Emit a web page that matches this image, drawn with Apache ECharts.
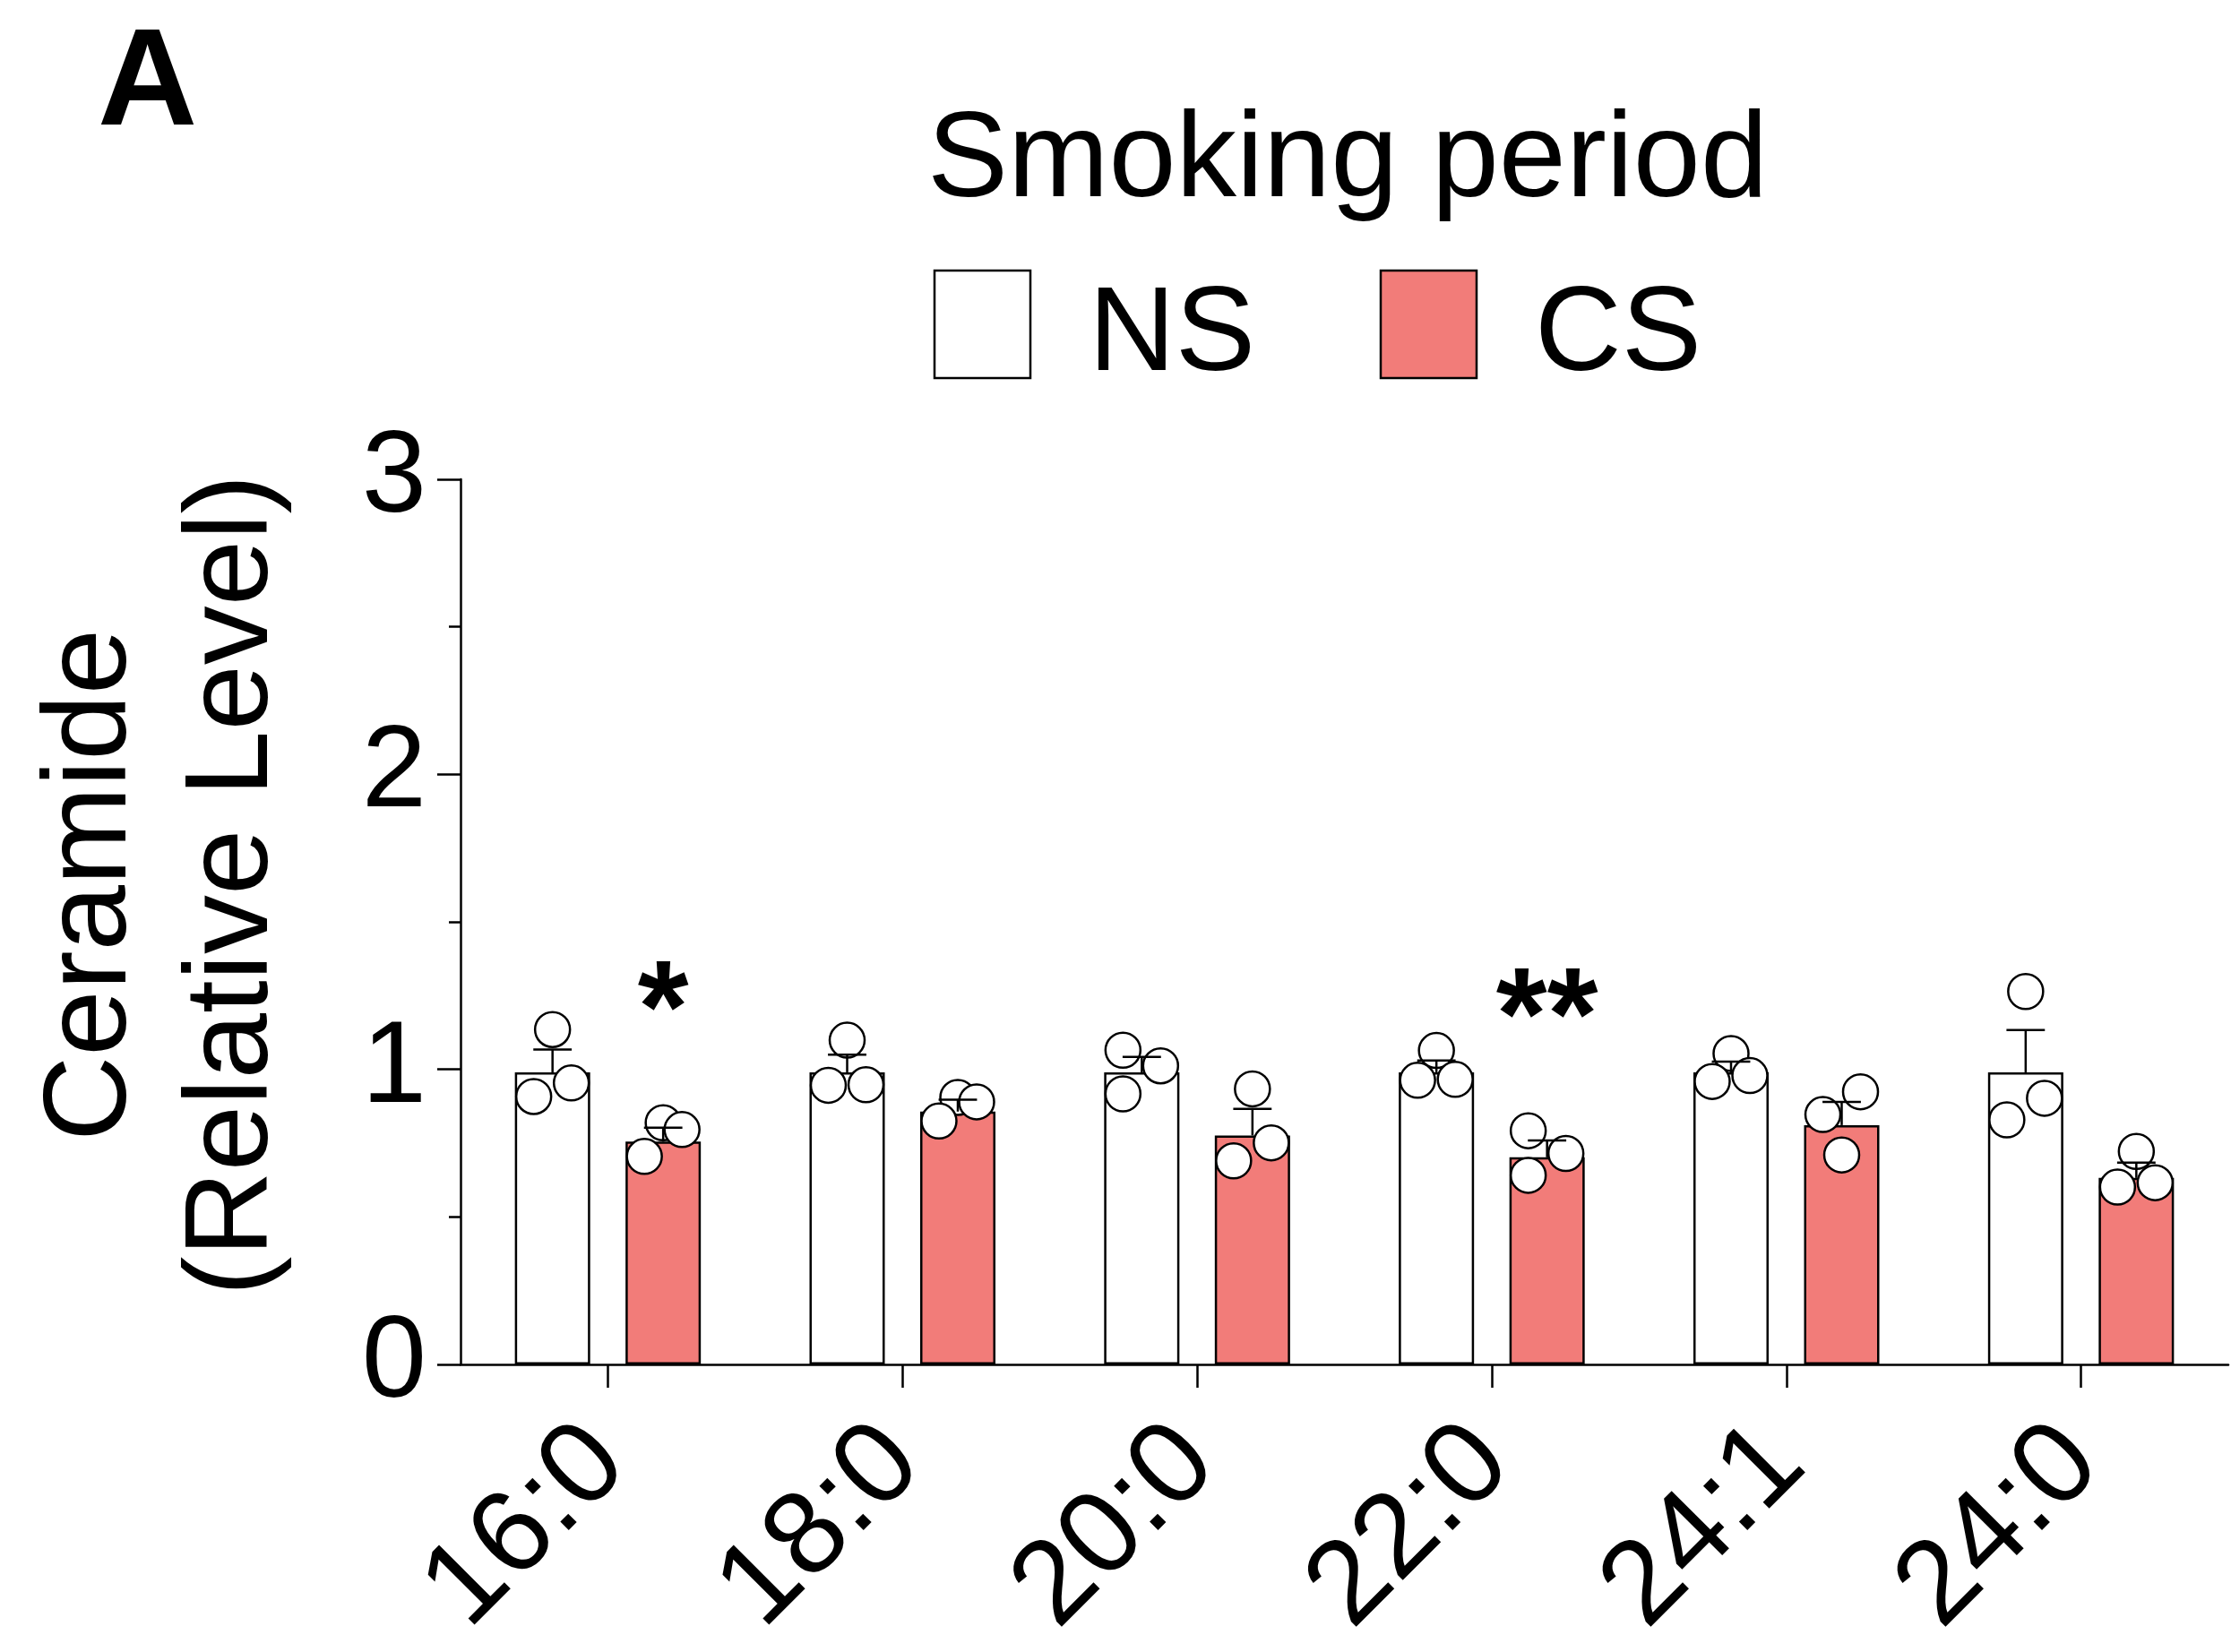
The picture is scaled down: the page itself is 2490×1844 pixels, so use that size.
<!DOCTYPE html>
<html>
<head>
<meta charset="utf-8">
<script src="https://cdn.jsdelivr.net/npm/echarts@6/dist/echarts.min.js"></script>
<style>
  html, body { margin: 0; padding: 0; background: #fff; }
  #chart { width: 2490px; height: 1844px; }
</style>
</head>
<body>
<div id="chart"></div>
<script>
// ---------------- data ----------------
const categories = ['16:0', '18:0', '20:0', '22:0', '24:1', '24:0'];
const seriesNames = ['NS', 'CS'];
const nsMean = [0.99, 0.99, 0.99, 0.99, 0.99, 0.99];
const nsSem  = [0.077, 0.060, 0.052, 0.040, 0.036, 0.143];
const csMean = [0.755, 0.857, 0.776, 0.702, 0.811, 0.632];
const csSem  = [0.047, 0.040, 0.090, 0.057, 0.079, 0.052];
const nsPoints = [
  [1.135, 0.954, 0.908],
  [1.099, 0.948, 0.946],
  [1.065, 1.012, 0.917],
  [1.064, 0.966, 0.963],
  [1.054, 0.979, 0.959],
  [1.264, 0.902, 0.829]
];
const csPoints = [
  [0.819, 0.796, 0.705],
  [0.905, 0.890, 0.825],
  [0.934, 0.751, 0.690],
  [0.792, 0.715, 0.641],
  [0.924, 0.847, 0.710],
  [0.722, 0.616, 0.601]
];
const sigLabels = ['*', '', '', '**', '', ''];
const yTicks = { min: 0, max: 3, interval: 1 };
const legendTitle = 'Smoking period';
const yTitle = 'Ceramide\n(Relative Level)';
const panelLabel = 'A';

// ---------------- styling constants ----------------
const FONT = '"Liberation Sans", Arial, Helvetica, sans-serif';
const NS_COLOR = '#ffffff';
const CS_COLOR = '#F27C79';
const LINE_W = 2.5;
const BAR_FRAC = 0.2555;   // bar width as fraction of category band
const GAP_FRAC = 0.47;     // gap between bars as fraction of bar width
const DOT_D = 39;          // dot diameter in px

function groupGeom(api, side) {
  const band = api.size([1, 0])[0];
  const barW = band * BAR_FRAC;
  const gap = barW * GAP_FRAC;
  return { barW: barW, off: side * (barW + gap) / 2 };
}

// beeswarm-like slotting: points that crowd each other are spread sideways
function slotsFor(ys) {
  const order = ys.map((y, i) => ({ y: y, i: i })).sort((a, b) => a.y - b.y);
  const clusters = [];
  order.forEach((p, k) => {
    if (k > 0 && p.y - order[k - 1].y < DOT_D) clusters[clusters.length - 1].push(p);
    else clusters.push([p]);
  });
  const slots = new Array(ys.length).fill(0);
  clusters.forEach(c => {
    let pattern;
    if (c.length === 1) pattern = [0];
    else if (c.length === 2) pattern = [1, -1];
    else if (c.length === 3) pattern = (c[2].y - c[0].y >= DOT_D * 1.08) ? [-1, 1, -1] : [0, 1, -1];
    else pattern = c.map((_, j) => j === 0 ? 0 : (j % 2 ? 1 : -1));
    c.forEach((p, j) => { slots[p.i] = pattern[j]; });
  });
  return slots;
}

function pointRenderer(side) {
  return function (params, api) {
    const idx = api.value(0);
    const g = groupGeom(api, side);
    const vals = [api.value(1), api.value(2), api.value(3)];
    const pts = vals.map(v => api.coord([idx, v]));
    const slots = slotsFor(pts.map(p => p[1]));
    const step = g.barW * 0.25;
    return {
      type: 'group',
      children: pts.map((p, k) => ({
        type: 'circle',
        shape: { cx: p[0] + g.off + slots[k] * step, cy: p[1], r: DOT_D / 2 },
        style: { fill: '#fff', stroke: '#000', lineWidth: LINE_W }
      }))
    };
  };
}

function errRenderer(side) {
  return function (params, api) {
    const idx = api.value(0);
    const m = api.value(1), s = api.value(2);
    const g = groupGeom(api, side);
    const p0 = api.coord([idx, m]);
    const p1 = api.coord([idx, m + s]);
    const cx = p0[0] + g.off;
    const capW = g.barW * 0.51;
    const st = { stroke: '#000', lineWidth: LINE_W };
    return {
      type: 'group',
      children: [
        { type: 'line', shape: { x1: cx, y1: p0[1], x2: cx, y2: p1[1] }, style: st },
        { type: 'line', shape: { x1: cx - capW / 2, y1: p1[1], x2: cx + capW / 2, y2: p1[1] }, style: st }
      ]
    };
  };
}

function sigRenderer(side) {
  return function (params, api) {
    const label = sigLabels[params.dataIndex];
    if (!label) return null;
    const idx = api.value(0);
    const g = groupGeom(api, side);
    const top = Math.min(api.coord([idx, api.value(1)])[1], api.coord([idx, api.value(2)])[1], api.coord([idx, api.value(3)])[1]);
    const cx = api.coord([idx, 0])[0] + g.off;
    return {
      type: 'text',
      x: cx, y: top - 120,
      style: { text: label, fontSize: 146, fontWeight: 'bold', fontFamily: FONT, fill: '#000', align: 'center', verticalAlign: 'middle' }
    };
  };
}

// legend drawn as graphic elements (swatch + label per series)
const legendColors = [NS_COLOR, CS_COLOR];
const legendItems = [];
seriesNames.forEach((name, i) => {
  const x0 = 1043 + i * 498;
  legendItems.push({
    type: 'rect', x: x0, y: 302,
    shape: { x: 0, y: 0, width: 107, height: 120 },
    style: { fill: legendColors[i], stroke: '#000', lineWidth: LINE_W }
  });
  legendItems.push({
    type: 'text', x: x0 + 172, y: 376,
    style: { text: name, fontSize: 134, fontFamily: FONT, fill: '#000', align: 'left', verticalAlign: 'middle' }
  });
});

const chart = echarts.init(document.getElementById('chart'), null, { renderer: 'canvas' });

const option = {
  backgroundColor: '#fff',
  animation: false,
  textStyle: { fontFamily: FONT, color: '#000' },
  grid: { left: 514, right: 3, top: 535, bottom: 321, containLabel: false },
  xAxis: {
    type: 'category',
    data: categories,
    axisLine: { show: true, lineStyle: { color: '#000', width: LINE_W } },
    axisTick: { show: true, alignWithLabel: true, length: 26, lineStyle: { color: '#000', width: LINE_W } },
    axisLabel: { interval: 0, rotate: 45, fontSize: 132, margin: 90, color: '#000', fontFamily: FONT },
    splitLine: { show: false }
  },
  yAxis: {
    type: 'value',
    min: yTicks.min, max: yTicks.max, interval: yTicks.interval,
    axisLine: { show: true, lineStyle: { color: '#000', width: LINE_W } },
    axisTick: { show: true, length: 26, lineStyle: { color: '#000', width: LINE_W } },
    minorTick: { show: true, splitNumber: 2, length: 13, lineStyle: { color: '#000', width: LINE_W } },
    axisLabel: { fontSize: 130, margin: 38, color: '#000', fontFamily: FONT },
    splitLine: { show: false },
    minorSplitLine: { show: false }
  },
  graphic: [
    { type: 'text', x: 109, y: 97, style: { text: panelLabel, fontSize: 154, fontWeight: 'bold', fontFamily: FONT, fill: '#000', align: 'left', verticalAlign: 'middle' } },
    { type: 'text', x: 1035, y: 182, style: { text: legendTitle, fontSize: 135, fontFamily: FONT, fill: '#000', align: 'left', verticalAlign: 'middle' } },
    { type: 'text', x: 183, y: 988, rotation: Math.PI / 2, style: { text: yTitle, fontSize: 132, lineHeight: 158, fontFamily: FONT, fill: '#000', align: 'center', verticalAlign: 'middle' } }
  ].concat(legendItems),
  series: [
    {
      name: 'NS', type: 'bar', data: nsMean,
      barWidth: (BAR_FRAC * 100) + '%', barGap: (GAP_FRAC * 100) + '%',
      itemStyle: { color: NS_COLOR, borderColor: '#000', borderWidth: LINE_W },
      z: 2
    },
    {
      name: 'CS', type: 'bar', data: csMean,
      barWidth: (BAR_FRAC * 100) + '%', barGap: (GAP_FRAC * 100) + '%',
      itemStyle: { color: CS_COLOR, borderColor: '#000', borderWidth: LINE_W },
      z: 2
    },
    {
      name: 'NS points', type: 'custom', renderItem: pointRenderer(-1),
      data: nsPoints.map((p, i) => [i].concat(p)), encode: { x: 0, y: [1, 2, 3] }, z: 3
    },
    {
      name: 'CS points', type: 'custom', renderItem: pointRenderer(1),
      data: csPoints.map((p, i) => [i].concat(p)), encode: { x: 0, y: [1, 2, 3] }, z: 3
    },
    {
      name: 'NS err', type: 'custom', renderItem: errRenderer(-1),
      data: nsMean.map((m, i) => [i, m, nsSem[i]]), encode: { x: 0, y: 1 }, z: 4
    },
    {
      name: 'CS err', type: 'custom', renderItem: errRenderer(1),
      data: csMean.map((m, i) => [i, m, csSem[i]]), encode: { x: 0, y: 1 }, z: 4
    },
    {
      name: 'CS sig', type: 'custom', renderItem: sigRenderer(1),
      data: csPoints.map((p, i) => [i].concat(p)), encode: { x: 0, y: [1, 2, 3] }, z: 5
    }
  ]
};
chart.setOption(option);
</script>
</body>
</html>
